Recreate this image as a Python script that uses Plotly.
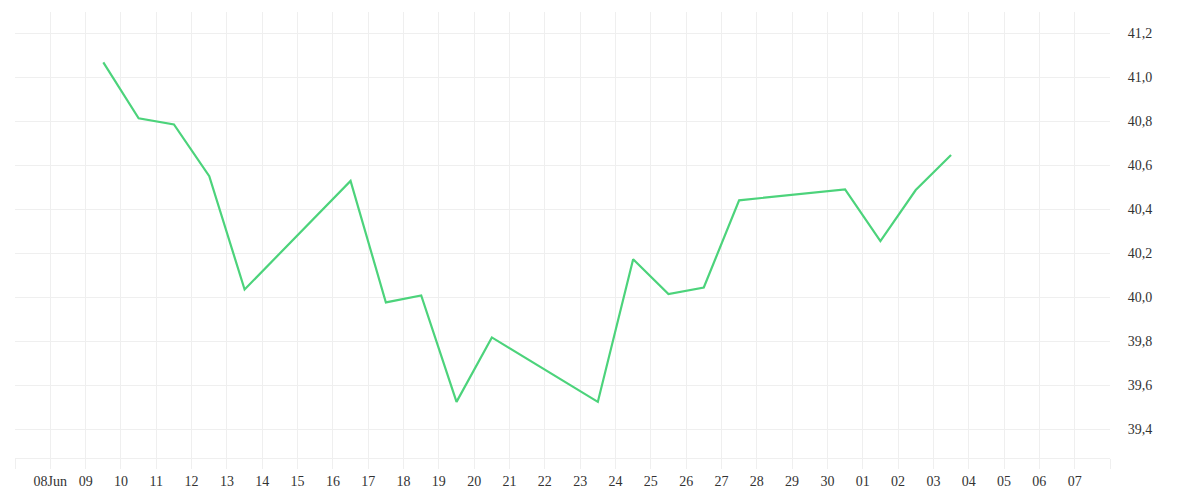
import plotly.graph_objects as go
import pandas as pd

dates = ["2025-06-09 12:00", "2025-06-10 12:00", "2025-06-11 12:00", "2025-06-12 12:00",
         "2025-06-13 12:00", "2025-06-16 12:00", "2025-06-17 12:00", "2025-06-18 12:00",
         "2025-06-19 12:00", "2025-06-20 12:00", "2025-06-23 12:00", "2025-06-24 12:00",
         "2025-06-25 12:00", "2025-06-26 12:00", "2025-06-27 12:00", "2025-06-30 12:00",
         "2025-07-01 12:00", "2025-07-02 12:00", "2025-07-03 12:00"]
values = [41.068, 40.814, 40.786, 40.551, 40.036, 40.529, 39.977, 40.009, 39.525, 39.818,
          39.525, 40.173, 40.015, 40.045, 40.441, 40.491, 40.256, 40.488, 40.647]

tick_dates = pd.date_range("2025-06-07", "2025-07-08", freq="D")
tick_labels = [""] + ["08Jun"] + [d.strftime("%d") for d in tick_dates[2:-1]] + [""]
y_ticks = [39.4, 39.6, 39.8, 40.0, 40.2, 40.4, 40.6, 40.8, 41.0, 41.2]

grid = "#efefef"
font_family = "Liberation Serif"
text_color = "#333333"

fig = go.Figure()
fig.add_trace(go.Scatter(
    x=pd.to_datetime(dates), y=values, mode="lines",
    line=dict(color="#4cd37b", width=2.2),
    showlegend=False,
))

fig.update_layout(
    width=1192, height=492,
    margin=dict(l=7, r=90, t=4, b=42),
    paper_bgcolor="white", plot_bgcolor="white",
    separators=",.",
    font=dict(family=font_family, size=14, color=text_color),
    xaxis=dict(
        range=[tick_dates[0], tick_dates[-1]],
        tickmode="array", tickvals=tick_dates, ticktext=tick_labels,
        showgrid=True, gridcolor=grid, gridwidth=1,
        showline=True, linecolor=grid, linewidth=1,
        ticks="outside", ticklen=10, tickcolor=grid, tickwidth=1,
        zeroline=False,
        tickfont=dict(family=font_family, size=14, color=text_color),
    ),
    yaxis=dict(
        side="right",
        range=[39.27, 41.297],
        tickmode="array", tickvals=y_ticks, tickformat=".1f",
        showgrid=True, gridcolor=grid, gridwidth=1,
        showline=False, zeroline=False,
        ticks="outside", ticklen=14, tickcolor="rgba(0,0,0,0)",
        tickfont=dict(family=font_family, size=14, color=text_color),
    ),
)

fig.write_html("out.html")
